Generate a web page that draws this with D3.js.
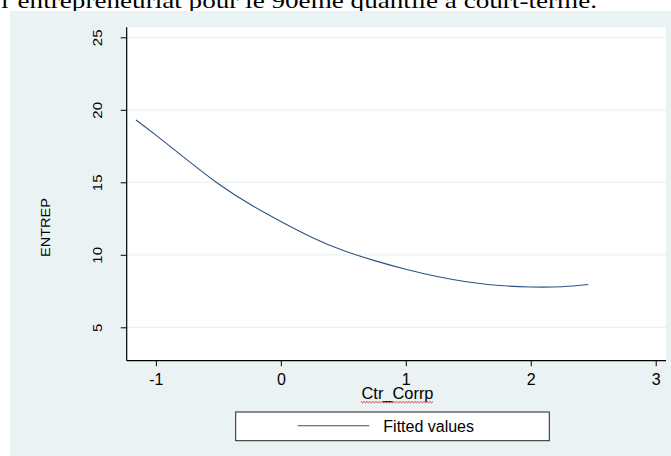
<!DOCTYPE html>
<html>
<head>
<meta charset="utf-8">
<script src="https://cdn.jsdelivr.net/npm/d3@7"></script>
<style>
  html, body { margin: 0; padding: 0; background: #ffffff; }
  svg { display: block; }
</style>
</head>
<body>
<svg id="chart" width="671" height="456"></svg>
<script>
// Fitted values of ENTREP against Ctr_Corrp (90th quantile, short term)
const ctrCorrp = [-1.16, -1.0, -0.75, -0.5, -0.25, 0, 0.25, 0.5, 0.75, 1.0, 1.25, 1.5, 1.75, 2.0, 2.25, 2.46];
const fittedValues = [19.3, 18.25, 16.55, 14.9, 13.5, 12.3, 11.2, 10.3, 9.6, 9.0, 8.5, 8.12, 7.88, 7.78, 7.8, 7.95];
const xTicks = [-1, 0, 1, 2, 3];
const yTicks = [5, 10, 15, 20, 25];
const seriesName = "Fitted values";
const xTitle = "Ctr_Corrp";
const yTitle = "ENTREP";
const caption = "l\u2019entrepreneuriat pour le 90\u00e8me quantile \u00e0 court-terme.";

const svg = d3.select("#chart");
const FONT = "'Liberation Sans', Arial, sans-serif";
const bgColor = "#eaf2f3";
const navy = "#2c5380";

// Document caption above the graph (partly clipped at the top)
svg.append("text")
  .attr("x", 1).attr("y", 8)
  .attr("font-family", "'Liberation Serif', 'Times New Roman', serif")
  .attr("font-size", 22)
  .attr("textLength", 596)
  .attr("lengthAdjust", "spacingAndGlyphs")
  .attr("fill", "#000")
  .text(caption);

// Graph region background
svg.append("rect")
  .attr("x", 10).attr("y", 11)
  .attr("width", 661).attr("height", 445)
  .attr("fill", bgColor);

// Plot region
const plot = { left: 126.7, right: 666, top: 27.3, bottom: 360.7 };
svg.append("rect")
  .attr("x", plot.left).attr("y", plot.top)
  .attr("width", plot.right - plot.left).attr("height", plot.bottom - plot.top)
  .attr("fill", "#ffffff");

const x = d3.scaleLinear()
  .domain([-1.2336, 3.0824])
  .range([plot.left, plot.right]);
const y = d3.scaleLinear()
  .domain([2.697, 25.69])
  .range([plot.bottom, plot.top]);

// Horizontal gridlines
svg.append("g")
  .selectAll("line")
  .data(yTicks)
  .join("line")
  .attr("x1", plot.left).attr("x2", plot.right)
  .attr("y1", d => y(d)).attr("y2", d => y(d))
  .attr("stroke", bgColor)
  .attr("stroke-width", 1.2);

// Fitted curve
const line = d3.line()
  .x((d, i) => x(ctrCorrp[i]))
  .y(d => y(d))
  .curve(d3.curveNatural);
svg.append("path")
  .datum(fittedValues)
  .attr("d", line)
  .attr("fill", "none")
  .attr("stroke", navy)
  .attr("stroke-width", 1.1);

// X axis
const xAxis = svg.append("g")
  .attr("transform", `translate(0,${plot.bottom})`)
  .call(d3.axisBottom(x).tickValues(xTicks).tickSize(5.5).tickPadding(8).tickFormat(d3.format("d")));
xAxis.select(".domain")
  .attr("d", `M${plot.left},0H${plot.right}`)
  .attr("stroke", "#000").attr("stroke-width", 1.2);
xAxis.selectAll(".tick line").attr("stroke", "#000").attr("stroke-width", 1);
xAxis.selectAll(".tick text")
  .attr("font-family", FONT).attr("font-size", 16)
  .attr("fill", "#000")
  .attr("dy", null).attr("y", 24)
  .text(d => d < 0 ? "-" + Math.abs(d) : d);

// Y axis
const yAxis = svg.append("g")
  .attr("transform", `translate(${plot.left},0)`)
  .call(d3.axisLeft(y).tickValues(yTicks).tickSize(6).tickFormat(d3.format("d")));
yAxis.select(".domain")
  .attr("d", `M0,${plot.top}V${plot.bottom}`)
  .attr("stroke", "#000").attr("stroke-width", 1.2);
yAxis.selectAll(".tick line").attr("stroke", "#000").attr("stroke-width", 1);
yAxis.selectAll(".tick text")
  .attr("font-family", FONT).attr("font-size", 15)
  .attr("fill", "#000")
  .attr("text-anchor", "middle")
  .attr("x", null).attr("dy", null)
  .attr("transform", "translate(-24.7,0) rotate(-90) scale(1,0.82)");

// Axis titles
svg.append("text")
  .attr("x", 397.5).attr("y", 399)
  .attr("text-anchor", "middle")
  .attr("font-family", FONT).attr("font-size", 16.4)
  .attr("fill", "#000")
  .text(xTitle);

// spell-check squiggle under the x title
const wave = [];
for (let px = 361; px <= 434; px += 1.5) wave.push([px, 401.8 + ((Math.round((px - 361) / 1.5) % 2) ? 1 : -0.3)]);
svg.append("path")
  .attr("d", d3.line()(wave))
  .attr("fill", "none")
  .attr("stroke", "#e02020")
  .attr("stroke-width", 0.9);

svg.append("text")
  .attr("transform", "translate(50,227.5) rotate(-90) scale(1,0.82)")
  .attr("text-anchor", "middle")
  .attr("font-family", FONT).attr("font-size", 14.5)
  .attr("fill", "#000")
  .text(yTitle);

// Legend
const legend = svg.append("g");
legend.append("rect")
  .attr("x", 235.7).attr("y", 412)
  .attr("width", 313.6).attr("height", 28.7)
  .attr("fill", "#ffffff")
  .attr("stroke", "#222").attr("stroke-width", 1);
legend.append("line")
  .attr("x1", 297.7).attr("x2", 369.3)
  .attr("y1", 425.7).attr("y2", 425.7)
  .attr("stroke", navy).attr("stroke-width", 1.1);
legend.append("text")
  .attr("x", 383.3).attr("y", 431.5)
  .attr("font-family", FONT).attr("font-size", 16)
  .attr("fill", "#000")
  .text(seriesName);
</script>
</body>
</html>
